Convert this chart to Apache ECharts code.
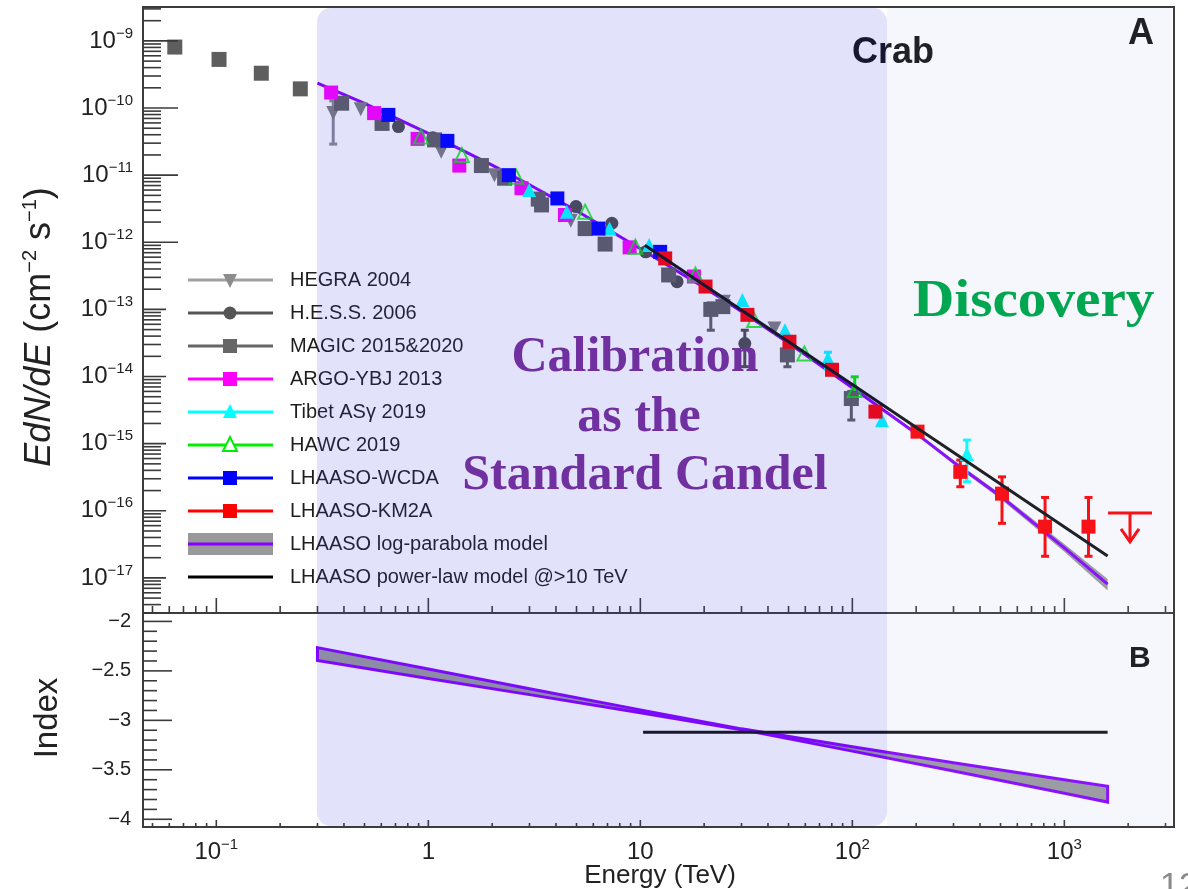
<!DOCTYPE html>
<html>
<head>
<meta charset="utf-8">
<script src="https://cdn.jsdelivr.net/npm/echarts@6/dist/echarts.min.js"></script>
<style>
  html, body { margin: 0; padding: 0; background: #ffffff; overflow: hidden; }
  #chart { width: 1188px; height: 889px; }
</style>
</head>
<body>
<div id="chart"></div>
<script>
// ---- axis ranges -------------------------------------------------------
const energyRange = [0.0451, 3290];          // TeV
const fluxRange = [3.0e-18, 3.2e-9];         // E dN/dE, cm^-2 s^-1
const indexRange = [-4.078, -1.915];         // spectral index

// ---- tick values -------------------------------------------------------
const energyDecades = [-2, -1, 0, 1, 2, 3];
const fluxDecades = [-18, -17, -16, -15, -14, -13, -12, -11, -10, -9];
const indexMajorTicks = [-4, -3.5, -3, -2.5, -2];
const indexMinorTicks = [-3.9, -3.8, -3.7, -3.6, -3.4, -3.3, -3.2, -3.1, -2.9, -2.8, -2.7, -2.6, -2.4, -2.3, -2.2, -2.1];
const decadeSubdivisions = [2, 3, 4, 5, 6, 7, 8, 9];

// ---- measurements: [energy TeV, E dN/dE, (err low, err high)] ----------
const hegra2004 = [
  [0.356, 8.45e-11, 2.9e-11, 1.28e-10], [0.48, 9.6e-11], [1.15, 2.24e-11], [2.05, 1.0e-11],
  [4.7, 2.1e-12], [24.8, 1.3e-13], [42.9, 5.2e-14]
];
const hess2006 = [
  [0.723, 5.3e-11], [1.05, 3.6e-11], [4.97, 3.4e-12], [7.34, 1.92e-12], [10.6, 7.2e-13],
  [14.9, 2.59e-13], [31.1, 3.1e-14, 1.4e-14, 4.9e-14]
];
const magic = [
  [0.0637, 8.1e-10], [0.103, 5.3e-10], [0.163, 3.3e-10], [0.249, 1.93e-10], [0.39, 1.18e-10],
  [0.605, 5.9e-11], [1.07, 3.35e-11], [1.78, 1.39e-11], [2.29, 9.0e-12], [3.3, 4.4e-12],
  [3.42, 3.6e-12], [5.49, 1.6e-12], [6.82, 9.4e-13], [13.6, 3.26e-13],
  [21.5, 1.0e-13, 4.9e-14, 1.25e-13], [24.5, 1.1e-13], [49.4, 2.1e-14, 1.4e-14, 2.6e-14],
  [98.9, 4.7e-15, 2.25e-15, 6.0e-15]
];
const argoYbj2013 = [
  [0.348, 1.70e-10], [0.555, 8.4e-11], [0.89, 3.47e-11], [1.40, 1.39e-11], [2.75, 6.4e-12],
  [4.41, 2.55e-12], [8.9, 8.4e-13], [17.9, 3.09e-13]
];
const tibet2019 = [
  [2.99, 6.0e-12], [4.5, 2.86e-12], [7.16, 1.6e-12], [11.0, 9.1e-13], [30.3, 1.38e-13],
  [48.1, 4.9e-14], [76.7, 1.86e-14, 1.3e-14, 2.3e-14], [138, 2.24e-15],
  [347, 7.0e-16, 2.7e-16, 1.13e-15]
];
const hawc2019 = [
  [0.923, 3.75e-11], [1.44, 2.0e-11], [2.6, 9.5e-12], [5.49, 2.86e-12], [9.47, 8.6e-13],
  [18.2, 3.3e-13], [34.4, 6.95e-14], [59.4, 2.2e-14], [102.6, 6.3e-15, 4.5e-15, 9.9e-15]
];
const lhaasoWcda = [
  [0.648, 7.9e-11], [1.23, 3.24e-11], [2.4, 1.0e-11], [4.06, 4.5e-12], [6.35, 1.6e-12], [12.4, 7.2e-13]
];
const lhaasoKm2a = [
  [13.1, 5.75e-13], [20.3, 2.19e-13], [32, 8.3e-14], [50.5, 3.3e-14], [80.2, 1.26e-14],
  [128.5, 3.0e-15], [203, 1.51e-15], [323, 3.8e-16, 2.28e-16, 5.7e-16],
  [508, 1.8e-16, 6.5e-17, 3.2e-16], [811, 5.8e-17, 2.1e-17, 1.58e-16],
  [1300, 5.8e-17, 2.1e-17, 1.58e-16]
];
const lhaasoKm2aUpperLimit = [[2040, 9.3e-17]];

// ---- LHAASO model curves ----------------------------------------------
const modelEnergy = [0.3, 0.5, 1, 2, 3, 5, 10, 20, 30, 50, 100, 200, 300, 500, 1000, 1600];
const logParabolaFlux = [2.36e-10, 1.17e-10, 4.2e-11, 1.41e-11, 7.2e-12, 2.95e-12, 8.0e-13, 2.12e-13,
  9.3e-14, 3.15e-14, 6.8e-15, 1.42e-15, 5.3e-16, 1.65e-16, 2.8e-17, 8.1e-18];
const logParabolaUpper = [2.42e-10, 1.2e-10, 4.3e-11, 1.44e-11, 7.35e-12, 3.0e-12, 8.15e-13, 2.16e-13,
  9.5e-14, 3.23e-14, 7.05e-15, 1.5e-15, 5.7e-16, 1.8e-16, 3.2e-17, 9.6e-18];
const logParabolaLower = [2.30e-10, 1.14e-10, 4.1e-11, 1.38e-11, 7.05e-12, 2.9e-12, 7.85e-13, 2.08e-13,
  9.1e-14, 3.07e-14, 6.55e-15, 1.35e-15, 4.95e-16, 1.5e-16, 2.45e-17, 6.5e-18];
const powerLawEnergy = [10.5, 100, 1600];
const powerLawFlux = [9.0e-13, 7.6e-15, 2.12e-17];

// local spectral index of the log-parabola (band edges) and of the power law
const indexEnergy = [0.3, 1, 3, 10, 30, 100, 300, 1000, 1600];
const indexUpper = [-2.265, -2.481, -2.680, -2.894, -3.086, -3.267, -3.428, -3.601, -3.666];
const indexLower = [-2.395, -2.577, -2.740, -2.924, -3.094, -3.311, -3.512, -3.737, -3.826];
const powerLawIndexEnergy = [10.3, 1600];
const powerLawIndex = [-3.12, -3.12];

// ---- legend text -------------------------------------------------------
const legendNames = [
  'HEGRA 2004', 'H.E.S.S. 2006', 'MAGIC 2015&2020', 'ARGO-YBJ 2013', 'Tibet ASγ 2019',
  'HAWC 2019', 'LHAASO-WCDA', 'LHAASO-KM2A', 'LHAASO log-parabola model',
  'LHAASO power-law model @>10 TeV'
];

// =======================================================================
const SANS = '"Liberation Sans", Arial, Helvetica, sans-serif';
const SERIF = '"Liberation Serif", "Times New Roman", serif';
const PURPLE = '#8800ff';
const TICK_COLOR = '#3a3a3a';

const legendStyles = [
  { line: '#a0a0a0', mark: '#8c8c8c', shape: 'down' },
  { line: '#555555', mark: '#555555', shape: 'circle' },
  { line: '#666666', mark: '#666666', shape: 'square' },
  { line: '#ff00ff', mark: '#ff00ff', shape: 'square' },
  { line: '#00ffff', mark: '#00ffff', shape: 'up' },
  { line: '#00ee00', mark: '#00ee00', shape: 'open' },
  { line: '#0000ff', mark: '#0000ff', shape: 'square' },
  { line: '#ff0000', mark: '#ff0000', shape: 'square' },
  { line: PURPLE, mark: null, shape: 'band' },
  { line: '#000000', mark: null, shape: 'none' }
];

function isPow10(v) {
  const e = Math.log10(v);
  return Math.abs(e - Math.round(e)) < 1e-6 ? Math.round(e) : null;
}

function powerLabel(v) {
  const e = isPow10(v);
  if (e === null) return '';
  if (e === 0) return '{b|1}';
  if (e === 1) return '{b|10}';
  return '{b|10}{s|' + (e < 0 ? '\u2212' : '') + Math.abs(e) + '}';
}

const labelRich = {
  b: { fontSize: 24, fontFamily: SANS, color: '#222', lineHeight: 30 },
  s: { fontSize: 15, fontFamily: SANS, color: '#222', lineHeight: 14, verticalAlign: 'top' }
};

// tick lists (major and 2..9 subdivisions inside the range)
function logTicks(decades, range) {
  const out = [];
  decades.forEach(function (d) {
    const base = Math.pow(10, d);
    if (base >= range[0] && base <= range[1]) out.push([base, 1]);
    decadeSubdivisions.forEach(function (m) {
      const v = m * base;
      if (v >= range[0] && v <= range[1]) out.push([v, 0]);
    });
  });
  return out;
}
const energyTicks = logTicks(energyDecades, energyRange);
const fluxTicks = logTicks(fluxDecades, fluxRange);
const indexTicks = indexMajorTicks.map(v => [v, 1]).concat(indexMinorTicks.map(v => [v, 0]));

// inward-pointing ticks drawn through the axis scales
function xTickSeries(gridIdx, fixedY, majorLen, minorLen) {
  return {
    type: 'custom', xAxisIndex: gridIdx, yAxisIndex: gridIdx, z: 7, silent: true, clip: false,
    data: energyTicks.map(t => [t[0], fixedY, t[1]]),
    renderItem: function (params, api) {
      const p = api.coord([api.value(0), api.value(1)]);
      const len = api.value(2) ? majorLen : minorLen;
      return { type: 'line', shape: { x1: p[0], y1: p[1], x2: p[0], y2: p[1] - len },
        style: { stroke: TICK_COLOR, lineWidth: 1.6 } };
    }
  };
}
function yTickSeries(gridIdx, ticks, majorLen, minorLen) {
  return {
    type: 'custom', xAxisIndex: gridIdx, yAxisIndex: gridIdx, z: 7, silent: true, clip: false,
    data: ticks.map(t => [energyRange[0], t[0], t[1]]),
    renderItem: function (params, api) {
      const p = api.coord([api.value(0), api.value(1)]);
      const len = api.value(2) ? majorLen : minorLen;
      return { type: 'line', shape: { x1: p[0], y1: p[1], x2: p[0] + len, y2: p[1] },
        style: { stroke: TICK_COLOR, lineWidth: 1.6 } };
    }
  };
}

function markerSeries(points, symbol, color, size, extra) {
  return Object.assign({
    type: 'scatter', xAxisIndex: 0, yAxisIndex: 0, z: 5, silent: true,
    symbol: symbol, symbolSize: size,
    itemStyle: { color: color, opacity: 1 },
    data: points.map(p => [p[0], p[1]])
  }, extra || {});
}

function errorBarSeries(points, color) {
  return {
    type: 'custom', xAxisIndex: 0, yAxisIndex: 0, z: 4, silent: true, clip: false,
    data: points.filter(p => p.length > 2).map(p => [p[0], p[2], p[3]]),
    renderItem: function (params, api) {
      const lo = api.coord([api.value(0), api.value(1)]);
      const hi = api.coord([api.value(0), api.value(2)]);
      const x = lo[0];
      const st = { stroke: color, lineWidth: 3 };
      return { type: 'group', children: [
        { type: 'line', shape: { x1: x, y1: lo[1], x2: x, y2: hi[1] }, style: st },
        { type: 'line', shape: { x1: x - 4, y1: lo[1], x2: x + 4, y2: lo[1] }, style: st },
        { type: 'line', shape: { x1: x - 4, y1: hi[1], x2: x + 4, y2: hi[1] }, style: st }
      ] };
    }
  };
}

function bandSeries(gridIdx, xs, upper, lower, fill, stroke, z) {
  return {
    type: 'custom', xAxisIndex: gridIdx, yAxisIndex: gridIdx, z: z, silent: true, clip: false,
    data: [[xs[0], upper[0]]],
    renderItem: function (params, api) {
      const pts = [];
      for (let i = 0; i < xs.length; i++) pts.push(api.coord([xs[i], upper[i]]));
      for (let i = xs.length - 1; i >= 0; i--) pts.push(api.coord([xs[i], lower[i]]));
      const style = { fill: fill };
      if (stroke) { style.stroke = stroke; style.lineWidth = 3; style.lineJoin = 'miter'; }
      return { type: 'polygon', shape: { points: pts }, style: style };
    }
  };
}

const series = [
  // panel A: log-parabola band and curve
  bandSeries(0, modelEnergy, logParabolaUpper, logParabolaLower, '#9c9c9c', null, 2),
  { type: 'line', xAxisIndex: 0, yAxisIndex: 0, z: 3, silent: true, showSymbol: false,
    lineStyle: { color: PURPLE, width: 3 },
    data: modelEnergy.map((e, i) => [e, logParabolaFlux[i]]) },

  // error bars
  errorBarSeries(hegra2004, '#8a8a95'),
  errorBarSeries(hess2006, '#4c4c4c'),
  errorBarSeries(magic, '#5e5e5e'),
  errorBarSeries(tibet2019, '#00ffff'),
  errorBarSeries(hawc2019, '#00ee00'),
  errorBarSeries(lhaasoKm2a, '#ff0000'),

  // markers
  markerSeries(hegra2004, 'triangle', '#7d7d7d', 14, { symbolRotate: 180 }),
  markerSeries(hess2006, 'circle', '#4c4c4c', 13),
  markerSeries(magic, 'rect', '#5e5e5e', 15),
  markerSeries(argoYbj2013, 'rect', '#ff00ff', 14),
  markerSeries(tibet2019, 'triangle', '#00ffff', 14),
  markerSeries(hawc2019, 'triangle', '#00ee00', 14,
    { itemStyle: { color: 'rgba(0,0,0,0)', borderColor: '#00ee00', borderWidth: 2 } }),
  markerSeries(lhaasoWcda, 'rect', '#0000ff', 14),
  markerSeries(lhaasoKm2a, 'rect', '#ff0000', 14),

  // KM2A upper limit
  {
    type: 'custom', xAxisIndex: 0, yAxisIndex: 0, z: 5, silent: true, clip: false,
    data: lhaasoKm2aUpperLimit,
    renderItem: function (params, api) {
      const p = api.coord([api.value(0), api.value(1)]);
      const st = { stroke: '#ff0000', lineWidth: 3, fill: null };
      return { type: 'group', children: [
        { type: 'line', shape: { x1: p[0] - 22, y1: p[1], x2: p[0] + 22, y2: p[1] }, style: st },
        { type: 'line', shape: { x1: p[0], y1: p[1], x2: p[0], y2: p[1] + 29 }, style: st },
        { type: 'polyline', shape: { points: [[p[0] - 9, p[1] + 16], [p[0], p[1] + 29], [p[0] + 9, p[1] + 16]] }, style: st }
      ] };
    }
  },

  // power law above 10 TeV
  { type: 'line', xAxisIndex: 0, yAxisIndex: 0, z: 6, silent: true, showSymbol: false,
    lineStyle: { color: '#111111', width: 3 },
    data: powerLawEnergy.map((e, i) => [e, powerLawFlux[i]]) },

  // panel B: index
  bandSeries(1, indexEnergy, indexUpper, indexLower, '#9b9b9b', PURPLE, 3),
  { type: 'line', xAxisIndex: 1, yAxisIndex: 1, z: 4, silent: true, showSymbol: false,
    lineStyle: { color: '#111111', width: 3 },
    data: powerLawIndexEnergy.map((e, i) => [e, powerLawIndex[i]]) },

  // ticks
  xTickSeries(0, fluxRange[0], 15, 7),
  yTickSeries(0, fluxTicks, 35, 18),
  xTickSeries(1, indexRange[0], 7, 4),
  yTickSeries(1, indexTicks, 29, 14)
];

// ---- legend ------------------------------------------------------------
const legendElements = [
  // blank legend pad (hides the tick ends behind it)
  { type: 'rect', z: 8, silent: true, shape: { x: 166, y: 262, width: 480, height: 334 }, style: { fill: '#ffffff' } }
];
legendNames.forEach(function (name, i) {
  const y = 280 + 33 * i;
  const s = legendStyles[i];
  if (s.shape === 'band') {
    legendElements.push({ type: 'rect', z: 9, silent: true, shape: { x: 188, y: y - 11, width: 85, height: 22 }, style: { fill: '#999999' } });
  }
  legendElements.push({ type: 'line', z: 9, silent: true, shape: { x1: 188, y1: y, x2: 273, y2: y },
    style: { stroke: s.line, lineWidth: 3 } });
  const cx = 230;
  if (s.shape === 'square') {
    legendElements.push({ type: 'rect', z: 10, silent: true, shape: { x: cx - 7, y: y - 7, width: 14, height: 14 }, style: { fill: s.mark } });
  } else if (s.shape === 'circle') {
    legendElements.push({ type: 'circle', z: 10, silent: true, shape: { cx: cx, cy: y, r: 6.5 }, style: { fill: s.mark } });
  } else if (s.shape === 'up') {
    legendElements.push({ type: 'polygon', z: 10, silent: true, shape: { points: [[cx, y - 8], [cx + 7, y + 6], [cx - 7, y + 6]] }, style: { fill: s.mark } });
  } else if (s.shape === 'down') {
    legendElements.push({ type: 'polygon', z: 10, silent: true, shape: { points: [[cx - 7, y - 6], [cx + 7, y - 6], [cx, y + 8]] }, style: { fill: s.mark } });
  } else if (s.shape === 'open') {
    legendElements.push({ type: 'polygon', z: 10, silent: true, shape: { points: [[cx, y - 8], [cx + 7, y + 6], [cx - 7, y + 6]] }, style: { fill: '#ffffff', stroke: s.mark, lineWidth: 2 } });
  }
  legendElements.push({ type: 'text', z: 10, silent: true, x: 290, y: y,
    style: { text: name, fill: '#1e1e1e', font: '20px ' + SANS, verticalAlign: 'middle', align: 'left' } });
});

// ---- shaded regions, titles and labels --------------------------------
const decorElements = [
  // calibration range (0.3 - 150 TeV)
  { type: 'rect', z: 20, silent: true, shape: { x: 317, y: 8, width: 570, height: 818, r: 14 },
    style: { fill: 'rgba(62,62,222,0.15)' } },
  // discovery range
  { type: 'rect', z: 20, silent: true, shape: { x: 887, y: 8, width: 285, height: 818 },
    style: { fill: 'rgba(165,175,225,0.10)' } },

  { type: 'text', z: 15, silent: true, x: 852, y: 53,
    style: { text: 'Crab', fill: '#111', font: 'bold 36px ' + SANS, verticalAlign: 'middle' } },
  { type: 'text', z: 15, silent: true, x: 1128, y: 34,
    style: { text: 'A', fill: '#111', font: 'bold 36px ' + SANS, verticalAlign: 'middle' } },
  { type: 'text', z: 15, silent: true, x: 1129, y: 659,
    style: { text: 'B', fill: '#111', font: 'bold 30px ' + SANS, verticalAlign: 'middle' } },

  { type: 'text', z: 30, silent: true, x: 913, y: 303, scaleX: 1.1,
    style: { text: 'Discovery', fill: '#00a650', font: 'bold 52px ' + SERIF, verticalAlign: 'middle' } },
  { type: 'text', z: 30, silent: true, x: 635, y: 358,
    style: { text: 'Calibration', fill: '#7030a0', font: 'bold 50px ' + SERIF, align: 'center', verticalAlign: 'middle' } },
  { type: 'text', z: 30, silent: true, x: 639, y: 418,
    style: { text: 'as the', fill: '#7030a0', font: 'bold 50px ' + SERIF, align: 'center', verticalAlign: 'middle' } },
  { type: 'text', z: 30, silent: true, x: 645, y: 476,
    style: { text: 'Standard Candel', fill: '#7030a0', font: 'bold 50px ' + SERIF, align: 'center', verticalAlign: 'middle' } },

  // axis titles
  { type: 'text', z: 15, silent: true, x: 40, y: 327, rotation: Math.PI / 2,
    style: {
      text: '{i|EdN/dE}{n| (cm}{s|\u22122}{n| s}{s|\u22121}{n|)}',
      align: 'center', verticalAlign: 'middle', fill: '#222',
      rich: {
        i: { fontSize: 36, fontFamily: SANS, fontStyle: 'italic', lineHeight: 40, fill: '#222' },
        n: { fontSize: 36, fontFamily: SANS, lineHeight: 40, fill: '#222' },
        s: { fontSize: 20, fontFamily: SANS, lineHeight: 20, verticalAlign: 'top', fill: '#222' }
      }
    } },
  { type: 'text', z: 15, silent: true, x: 48, y: 718, rotation: Math.PI / 2,
    style: { text: 'Index', fill: '#222', font: '33px ' + SANS, align: 'center', verticalAlign: 'middle' } },
  { type: 'text', z: 15, silent: true, x: 660, y: 876,
    style: { text: 'Energy (TeV)', fill: '#222', font: '26px ' + SANS, align: 'center', verticalAlign: 'middle' } },

  // slide number
  { type: 'text', z: 15, silent: true, x: 1160, y: 870,
    style: { text: '12', fill: '#8a8a8a', font: '34px ' + SANS } }
];

const option = {
  animation: false,
  backgroundColor: '#ffffff',
  grid: [
    { left: 143, top: 7, right: 14, height: 606, show: true, borderColor: '#3c3c3c', borderWidth: 2, backgroundColor: 'transparent' },
    { left: 143, top: 613, right: 14, height: 214, show: true, borderColor: '#3c3c3c', borderWidth: 2, backgroundColor: 'transparent' }
  ],
  xAxis: [
    { type: 'log', logBase: 10, gridIndex: 0, min: energyRange[0], max: energyRange[1], splitNumber: 5,
      axisLine: { show: false }, axisTick: { show: false }, axisLabel: { show: false }, splitLine: { show: false } },
    { type: 'log', logBase: 10, gridIndex: 1, min: energyRange[0], max: energyRange[1], splitNumber: 5,
      axisLine: { show: false }, axisTick: { show: false }, splitLine: { show: false },
      axisLabel: { show: true, margin: 10, formatter: powerLabel, rich: labelRich, hideOverlap: false } }
  ],
  yAxis: [
    { type: 'log', logBase: 10, gridIndex: 0, min: fluxRange[0], max: fluxRange[1], splitNumber: 9,
      axisLine: { show: false }, axisTick: { show: false }, splitLine: { show: false },
      axisLabel: { show: true, margin: 10, formatter: powerLabel, rich: labelRich, hideOverlap: false } },
    { type: 'value', gridIndex: 1, min: indexRange[0], max: indexRange[1], splitNumber: 5,
      axisLine: { show: false }, axisTick: { show: false }, splitLine: { show: false },
      axisLabel: { show: true, margin: 12, fontSize: 20, fontFamily: SANS, color: '#222', hideOverlap: false,
        formatter: function (v) {
          if (Math.abs(v * 2 - Math.round(v * 2)) > 1e-6) return '';
          return (v < 0 ? '\u2212' : '') + Math.abs(v);
        } } }
  ],
  series: series,
  graphic: { elements: legendElements.concat(decorElements) }
};

const chart = echarts.init(document.getElementById('chart'), null, { renderer: 'canvas', width: 1188, height: 889 });
chart.setOption(option);
</script>
</body>
</html>
